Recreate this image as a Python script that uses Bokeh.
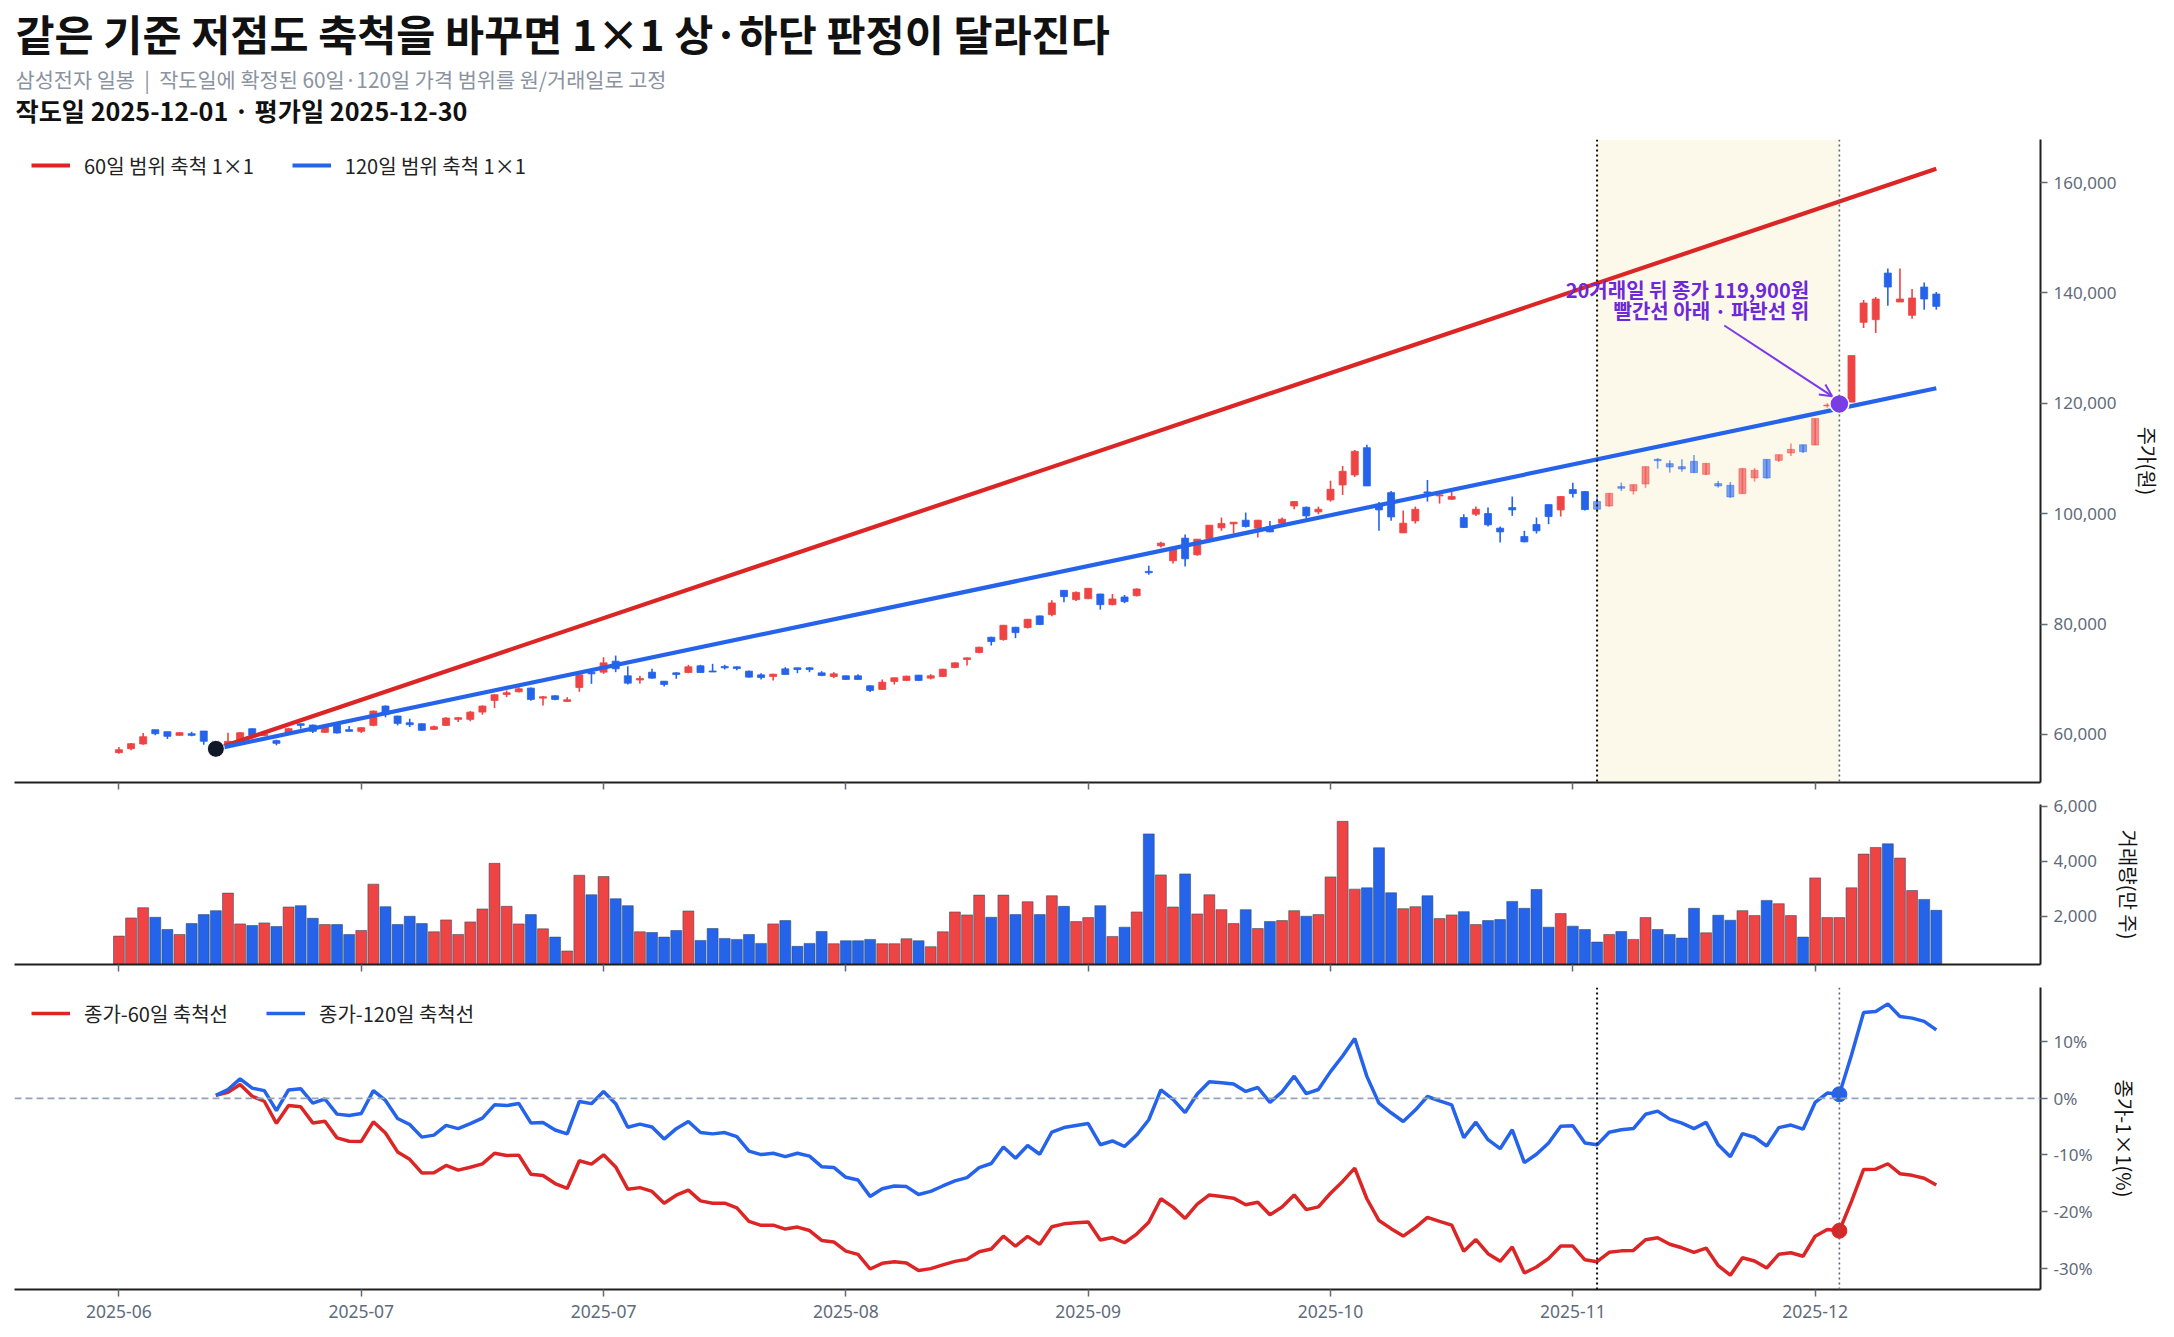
from bokeh.plotting import figure
from bokeh.models import (Range1d, FixedTicker, NumeralTickFormatter, PrintfTickFormatter,
                          BoxAnnotation, Span, Legend, LegendItem, Arrow, OpenHead,
                          ColumnDataSource, Label)
from bokeh.layouts import column
from bokeh.embed import file_html
from bokeh.resources import INLINE
from bokeh.core.properties import value

# ---------------- data ----------------
title_text = "같은 기준 저점도 축척을 바꾸면 1×1 상·하단 판정이 달라진다"
subtitle_text = "삼성전자 일봉\u00a0\u00a0|\u00a0\u00a0작도일에 확정된 60일·120일 가격 범위를 원/거래일로 고정"
dates_text = "작도일 2025-12-01 · 평가일 2025-12-30"

tick_idx = [0, 20, 40, 60, 80, 100, 120, 140]
tick_labels = ["2025-06", "2025-07", "2025-07", "2025-08", "2025-09", "2025-10", "2025-11", "2025-12"]

open_ = [56710,57430,58280,60870,60510,59840,60140,60630,58300,58340,
         59060,61050,59800,58880,60330,61950,61710,60390,61710,60870,
         60570,61650,65150,63340,62130,61950,60930,61650,62740,62740,
         64060,66170,67250,67740,68400,66590,67010,65990,68520,71290,
         71290,73280,70630,69880,71290,69660,71170,71230,72440,71500,
         72320,72260,71470,70810,70510,71890,72080,72080,71170,70510,
         70630,70630,68820,68160,69600,69790,70750,70210,70510,72140,
         73580,74850,77620,77200,79430,79370,81480,81720,86120,84430,
         84610,85450,83520,84910,85150,89550,94180,91470,95570,92560,
         95510,97440,98160,98820,97380,97680,98280,101410,101170,100330,
         102500,105210,107020,111960,101710,103820,96530,98700,103940,103230,
         102620,99300,99910,100030,97380,101110,95870,98040,101650,100690,
         104370,104010,102200,101410,104910,104130,105390,109850,109070,108530,
         109490,107140,105460,105150,103640,106480,109850,109670,111000,112500,
         112440,119600,119500,120220,134680,135160,143600,138360,135950,141070,
         139800]
high = [57730,58460,60270,60870,60510,60450,60510,60630,58400,60330,
        60450,61100,60300,59060,61200,61950,61800,61770,61800,61530,
        61300,64350,65270,63400,62860,62000,61650,63100,63100,64240,
        65270,67300,67980,68580,68500,66950,67100,66770,70900,71400,
        74000,74300,72380,70630,71890,69700,71290,72620,72620,72800,
        72620,72300,71600,71110,71000,72200,72100,72200,71470,71290,
        70700,70930,68900,69970,70300,70650,70800,70930,71900,73050,
        73950,75900,77700,79850,79500,80950,81550,84310,86200,85900,
        86550,85500,85450,85270,86480,90580,94910,93580,96230,95400,
        97950,99310,98500,100210,98900,98700,99310,102300,101300,101290,
        105990,108640,111540,112500,102140,104120,100570,101290,106110,103500,
        103940,99910,101290,101110,97700,103110,96900,99310,101700,103200,
        105630,104100,103230,103750,105630,105300,108530,110095,109670,109850,
        110640,109130,105940,105750,108290,108290,109850,110700,112740,112500,
        117260,120040,120300,128655,138720,139260,144440,144440,140700,141910,
        140170]
low = [56530,57130,58160,59840,59180,59780,59660,58160,57400,58160,
       58880,59660,59700,58040,60200,61050,60270,60270,60200,60570,
       60270,61500,63100,61650,61350,60630,60800,61550,62250,62400,
       63580,64780,66770,67600,66100,65270,66200,65900,67740,69180,
       70990,71290,69060,69180,70090,68700,70090,71100,71150,71470,
       71770,71650,70300,69970,69790,70870,71110,71290,70570,70210,
       69900,69900,67700,68100,69060,69700,69700,69970,70400,72000,
       72500,74700,76110,77000,77440,79200,79850,81420,83950,84200,
       84500,82620,83400,83770,85000,88950,93880,90990,90450,92380,
       95400,96900,96470,97500,95690,96650,98200,100810,99120,99910,
       102200,103400,106660,105030,96900,98740,96500,98220,102200,101840,
       102500,97400,99600,97700,94790,99610,94800,96410,98100,99490,
       102920,100600,100210,101240,104120,103470,104700,108160,107440,107620,
       107440,107020,104730,102860,103640,105810,106360,109370,110460,111000,
       112440,119200,119200,120220,133650,132750,137690,138360,135340,136970,
       136970]
close = [57250,58340,59600,60140,59660,60330,59840,58760,57700,58760,
         60330,59840,60050,58400,61050,61650,60570,61470,60270,60570,
         61230,64240,63600,62010,61770,60750,61410,62980,63040,64060,
         65150,67200,67560,68280,66350,66830,66350,66290,70810,70990,
         72980,71900,69300,70150,70210,69060,70870,72260,71230,71470,
         72080,71950,70390,70330,70930,70870,71770,71770,70690,70990,
         69970,69970,67980,69480,70270,70570,69790,70630,71830,72980,
         73880,75810,76840,79790,78460,80870,79910,83830,84970,85750,
         86480,83520,84550,84070,86360,89310,94670,93580,91830,95390,
         97920,98220,98460,97680,98820,96710,99000,102200,99610,100810,
         104430,107680,111300,105030,100690,99420,98280,100810,103740,103410,
         103110,97500,100810,97980,96710,100690,94910,96900,99490,103110,
         103640,100750,100810,103700,104610,105270,108530,109610,108470,108110,
         107440,109130,105030,103040,108170,107860,106480,110700,111660,111240,
         117260,119700,119900,128655,138175,138900,141070,138900,139080,138900,
         137570]
volume = [1281,1941,2314,1965,1521,1341,1737,2062,2206,2842,
          1725,1665,1761,1629,2338,2386,1929,1701,1701,1341,
          1485,3167,2350,1701,2002,1737,1437,1869,1341,1797,
          2266,3923,2362,1725,2062,1545,1245,741,3491,2782,
          3443,2638,2386,1437,1413,1245,1485,2194,1125,1557,
          1197,1161,1341,1017,1725,1845,909,1017,1449,1005,
          1113,1113,1161,1005,1005,1185,1113,897,1437,2158,
          2050,2770,1965,2770,2062,2530,2062,2746,2362,1809,
          1953,2386,1269,1605,2158,4992,3503,2338,3539,2086,
          2782,2242,1737,2242,1557,1809,1845,2206,2002,2062,
          3431,5448,2986,3034,4488,2854,2278,2350,2746,1917,
          2050,2170,1701,1845,1881,2542,2290,2974,1605,2098,
          1641,1521,1065,1341,1449,1161,1953,1521,1341,1209,
          2290,1401,2038,1857,2206,2026,2578,2458,2026,1245,
          3395,1953,1953,3034,4259,4500,4632,4115,2938,2614,
          2218]  # 만 주

anchor_idx = 8          # 기준 저점 (작도 기준)
anchor_price = 57400
range60 = 44400         # 60일 가격 범위 (원)  -> 1x1 기울기 = range60/60 원/거래일
range120 = 55200        # 120일 가격 범위 (원) -> 1x1 기울기 = range120/120 원/거래일
draw_idx = 122          # 작도일
eval_idx = 142          # 평가일 (20거래일 뒤)

# ---------------- derived ----------------
n = len(close)
idx = list(range(n))
slope60 = range60 / 60.0
slope120 = range120 / 120.0
fan_x = [anchor_idx, n - 1]
fan60_y = [anchor_price + slope60 * (x - anchor_idx) for x in fan_x]
fan120_y = [anchor_price + slope120 * (x - anchor_idx) for x in fan_x]

ind_x = list(range(anchor_idx, n))
pct60 = [(close[i] / (anchor_price + slope60 * (i - anchor_idx)) - 1) * 100 for i in ind_x]
pct120 = [(close[i] / (anchor_price + slope120 * (i - anchor_idx)) - 1) * 100 for i in ind_x]

UP = "#ef4444"
DOWN = "#2563eb"
RED_LINE = "#dc2626"
BLUE_LINE = "#2563eb"
PURPLE = "#7c3aed"
TICK_COL = "#5f6b7a"
AXIS_COL = "#1f1f1f"
KFONT = "Noto Sans CJK KR"
NFONT = "Noto Sans"

up = [c >= o for o, c in zip(open_, close)]
colors = [UP if u else DOWN for u in up]
alphas = [0.6 if draw_idx <= i <= eval_idx else 1.0 for i in idx]
body_top = [max(o, c) for o, c in zip(open_, close)]
body_bot = [min(o, c) for o, c in zip(open_, close)]
body_bot = [b if t - b >= 180 else t - 180 for t, b in zip(body_top, body_bot)]

src = ColumnDataSource(dict(x=idx, high=high, low=low, top=body_top, bottom=body_bot,
                            color=colors, alpha=alphas, vol=volume))

TOTAL_W = 2174
W_LEFT = 14
FW = 2026
W_RIGHT = TOTAL_W - W_LEFT - FW
x_range = Range1d(-8.62, 158.6)


def style_right_axis(ax, label, ticks, formatter):
    ax.ticker = FixedTicker(ticks=ticks)
    ax.formatter = formatter
    ax.axis_label = label
    ax.axis_label_text_font = KFONT
    ax.axis_label_text_font_size = "20px"
    ax.axis_label_text_font_style = "normal"
    ax.axis_label_text_color = "#111111"
    ax.axis_label_standoff = 14
    ax.major_label_text_font = NFONT
    ax.major_label_text_font_size = "17px"
    ax.major_label_text_color = TICK_COL
    ax.major_label_standoff = 6
    ax.axis_line_color = AXIS_COL
    ax.axis_line_width = 2
    ax.major_tick_line_color = TICK_COL
    ax.major_tick_line_width = 1.5
    ax.major_tick_in = 0
    ax.major_tick_out = 7
    ax.minor_tick_line_color = None


def style_x_axis(ax, show_labels):
    ax.ticker = FixedTicker(ticks=tick_idx)
    ax.axis_line_color = AXIS_COL
    ax.axis_line_width = 2
    ax.major_tick_line_color = TICK_COL
    ax.major_tick_line_width = 1.5
    ax.major_tick_in = 0
    ax.major_tick_out = 7
    ax.minor_tick_line_color = None
    ax.major_label_text_font = NFONT
    ax.major_label_text_color = TICK_COL
    if show_labels:
        ax.major_label_overrides = {t: l for t, l in zip(tick_idx, tick_labels)}
        ax.major_label_text_font_size = "17.5px"
        ax.major_label_standoff = 8
    else:
        ax.major_label_overrides = {t: "" for t in tick_idx}
        ax.major_label_text_font_size = "1px"
        ax.major_label_standoff = 0


def base_fig(frame_h, y_range, top, bottom):
    f = figure(frame_width=FW, frame_height=frame_h, x_range=x_range, y_range=y_range,
               y_axis_location="right", output_backend="svg", toolbar_location=None,
               min_border_left=W_LEFT, min_border_right=W_RIGHT,
               min_border_top=top, min_border_bottom=bottom)
    f.xgrid.visible = False
    f.ygrid.visible = False
    f.outline_line_color = None
    f.background_fill_color = "white"
    return f


LEG_ITEM_H = 29   # measured height of one legend row


def make_legend(items, frame_h):
    # row centre 26 px below the frame top, glyph 17 px in from the frame left
    return Legend(items=items, location=(17, frame_h - (26 - LEG_ITEM_H / 2) - LEG_ITEM_H),
                  orientation="horizontal",
                  margin=0, padding=0, spacing=38, glyph_width=39, glyph_height=20,
                  label_standoff=14, background_fill_alpha=0, border_line_alpha=0,
                  label_text_font=KFONT, label_text_font_size="20px",
                  label_text_color="#222222")


# ---------------- header ----------------
HDR_H = 139
hdr = figure(frame_width=FW, frame_height=HDR_H, x_range=Range1d(0, FW),
             y_range=Range1d(HDR_H, 0), x_axis_type=None, y_axis_type=None,
             output_backend="svg", toolbar_location=None,
             min_border_left=W_LEFT, min_border_right=W_RIGHT, min_border_top=0, min_border_bottom=0)
hdr.xgrid.visible = False
hdr.ygrid.visible = False
hdr.outline_line_color = None
hdr.text(x=[1], y=[32], text=[title_text], text_font=value(KFONT), text_font_size="42.5px",
         text_font_style="bold", text_color="#111111", text_baseline="middle")
hdr.text(x=[1], y=[78], text=[subtitle_text], text_font=value(KFONT), text_font_size="20.8px",
         text_color="#8b93a1", text_baseline="middle")
hdr.text(x=[1], y=[109], text=[dates_text], text_font=value(KFONT), text_font_size="25.2px",
         text_font_style="bold", text_color="#111111", text_baseline="middle")

# ---------------- price panel ----------------
P1_H = 643
p1 = base_fig(P1_H, Range1d(51300, 167800), 0, 12)
p1.add_layout(BoxAnnotation(left=draw_idx, right=eval_idx, fill_color="#fdf9ea", fill_alpha=1.0,
                            line_alpha=0, level="underlay"))
p1.segment(x0="x", y0="low", x1="x", y1="high", source=src, line_color="color",
           line_alpha="alpha", line_width=1.6)
p1.vbar(x="x", top="top", bottom="bottom", width=0.58, source=src, fill_color="color",
        fill_alpha="alpha", line_color="color", line_alpha="alpha", line_width=0.8)
r60 = p1.line(fan_x, fan60_y, line_color=RED_LINE, line_width=4.2)
r120 = p1.line(fan_x, fan120_y, line_color=BLUE_LINE, line_width=4.2)
p1.add_layout(Span(location=draw_idx, dimension="height", line_color="#111111",
                   line_dash="2 3", line_width=2))
p1.add_layout(Span(location=eval_idx, dimension="height", line_color="#5b6472",
                   line_dash="2 3", line_width=1.6))
p1.scatter(x=[anchor_idx], y=[low[anchor_idx]], size=17, fill_color="#111827",
           line_color="white", line_width=1)
p1.scatter(x=[eval_idx], y=[close[eval_idx]], size=19, fill_color=PURPLE,
           line_color="white", line_width=1.5)
ev_close = close[eval_idx]
p1.add_layout(Arrow(end=OpenHead(size=12, line_color=PURPLE, line_width=2),
                    x_start=eval_idx - 9.5, y_start=ev_close + 14200,
                    x_end=eval_idx - 0.6, y_end=ev_close + 1400,
                    line_color=PURPLE, line_width=2))
p1.add_layout(Label(x=eval_idx - 2.5, y=ev_close + 20700,
                    text=f"20거래일 뒤 종가 {ev_close:,}원", text_align="right",
                    text_baseline="middle", text_font=KFONT, text_font_size="20px",
                    text_font_style="bold", text_color="#6d28d9"))
p1.add_layout(Label(x=eval_idx - 2.5, y=ev_close + 17000,
                    text="빨간선 아래 · 파란선 위", text_align="right",
                    text_baseline="middle", text_font=KFONT, text_font_size="20px",
                    text_font_style="bold", text_color="#6d28d9"))
style_right_axis(p1.yaxis[0], "주가(원)", [60000, 80000, 100000, 120000, 140000, 160000],
                 NumeralTickFormatter(format="0,0"))
style_x_axis(p1.xaxis[0], False)
p1.add_layout(make_legend([LegendItem(label="60일 범위 축척 1×1", renderers=[r60]),
                           LegendItem(label="120일 범위 축척 1×1", renderers=[r120])], P1_H))

# ---------------- volume panel ----------------
p2 = base_fig(160, Range1d(250, 6060), 10, 12)
p2.vbar(x="x", top="vol", bottom=0, width=0.9, source=src, fill_color="color",
        line_color="#2f4a66", line_width=0.7, line_alpha=0.8)
style_right_axis(p2.yaxis[0], "거래량(만 주)", [2000, 4000, 6000], NumeralTickFormatter(format="0,0"))
style_x_axis(p2.xaxis[0], False)

# ---------------- indicator panel ----------------
P3_H = 302
p3 = base_fig(P3_H, Range1d(-33.8, 19.6), 11, 34)
p3.add_layout(Span(location=0, dimension="width", line_color="#94a3b8", line_dash="7 4",
                   line_width=1.8))
p3.add_layout(Span(location=draw_idx, dimension="height", line_color="#111111",
                   line_dash="2 3", line_width=2))
p3.add_layout(Span(location=eval_idx, dimension="height", line_color="#5b6472",
                   line_dash="2 3", line_width=1.6))
q60 = p3.line(ind_x, pct60, line_color=RED_LINE, line_width=3.5)
q120 = p3.line(ind_x, pct120, line_color=BLUE_LINE, line_width=3.5)
p3.scatter(x=[eval_idx], y=[pct120[eval_idx - anchor_idx]], size=15, fill_color=BLUE_LINE,
           line_color=BLUE_LINE)
p3.scatter(x=[eval_idx], y=[pct60[eval_idx - anchor_idx]], size=15, fill_color=RED_LINE,
           line_color=RED_LINE)
style_right_axis(p3.yaxis[0], "종가-1×1(%)", [-30, -20, -10, 0, 10], PrintfTickFormatter(format="%d%%"))
style_x_axis(p3.xaxis[0], True)
p3.add_layout(make_legend([LegendItem(label="종가-60일 축척선", renderers=[q60]),
                           LegendItem(label="종가-120일 축척선", renderers=[q120])], P3_H))

page = column(hdr, p1, p2, p3, spacing=0)
open("out.html", "w").write(file_html(page, INLINE))
